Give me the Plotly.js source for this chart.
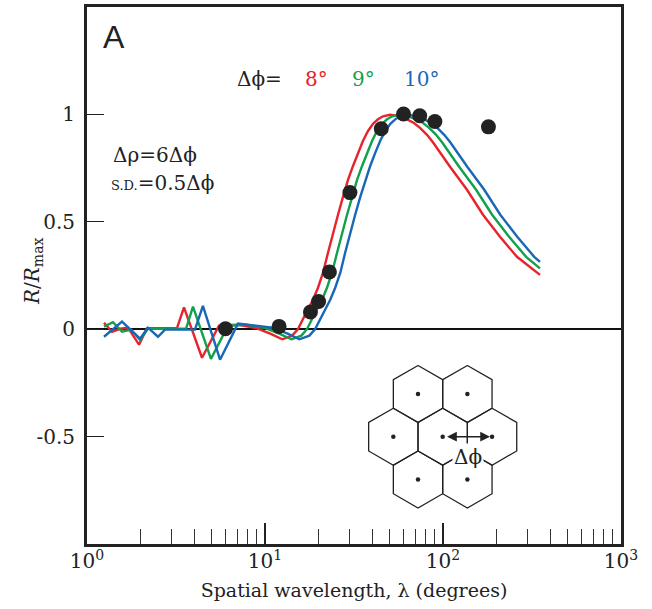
<!DOCTYPE html>
<html>
<head>
<meta charset="utf-8">
<script src="https://cdn.plot.ly/plotly-3.0.1.min.js"></script>
<style>html,body{margin:0;padding:0;background:#fff;}#chart{width:652px;height:609px;}</style>
</head>
<body>
<div id="chart"></div>
<script>
// ---- data ----
const dotsX = [6, 12, 18, 20, 23, 30, 45, 60, 74, 90, 180];
const dotsY = [0.002, 0.013, 0.08, 0.129, 0.266, 0.636, 0.933, 1.002, 0.994, 0.967, 0.942];

const redX = [1.246, 1.382, 1.532, 1.699, 1.96, 2.173, 3.203, 3.506, 4.427, 5.514, 6.96,
  8.8, 10.7, 12.5, 14.2, 15.3, 16.8, 18.6, 19.85, 21.18, 22.59, 24.1, 25.71, 27.43, 29.26,
  31.22, 33.31, 35.53, 37.91, 40.44, 43.14, 46.03, 50.38, 55.87, 62.8, 68.7, 74.3, 81.3, 87.8, 109.5,
  136.4, 167.8, 209.0, 260.4, 350.7];
const redY = [0.03, -0.012, 0.002, 0.007, -0.072, 0.005, 0.005, 0.102, -0.133, 0.016, 0.021,
  0.007, -0.021, -0.047, -0.030, 0.0, 0.067, 0.137, 0.193, 0.263, 0.356, 0.449, 0.533, 0.616, 0.695,
  0.760, 0.821, 0.877, 0.923, 0.956, 0.977, 0.991, 0.998, 0.993, 0.977, 0.960, 0.937, 0.905, 0.870, 0.756,
  0.649, 0.533, 0.430, 0.337, 0.253];

const greenX = [1.246, 1.4, 1.573, 1.767, 1.986, 2.2, 3.6, 3.94, 4.97, 6.2, 7.82,
  9.9, 12.0, 14.1, 16.0, 17.2, 18.9, 20.9, 22.3, 23.8, 25.4, 27.1, 28.9, 30.9, 32.9,
  35.1, 37.5, 40.0, 42.6, 45.5, 48.5, 51.8, 56.7, 62.9, 70.7, 77.3, 83.6, 91.5, 98.8, 123.2,
  153.5, 188.8, 235.1, 293.0, 350.7];
const greenY = [0.012, 0.033, -0.012, -0.002, -0.049, 0.002, 0.002, 0.105, -0.138, 0.016, 0.021,
  0.007, -0.021, -0.047, -0.030, 0.0, 0.067, 0.137, 0.193, 0.263, 0.356, 0.449, 0.533, 0.616, 0.695,
  0.760, 0.821, 0.877, 0.923, 0.956, 0.977, 0.991, 0.998, 0.993, 0.977, 0.960, 0.937, 0.905, 0.870, 0.756,
  0.649, 0.533, 0.430, 0.337, 0.283];

const blueX = [1.246, 1.573, 1.986, 2.2, 2.505, 2.743, 4.04, 4.48, 5.59, 7.05,
  11.0, 13.4, 15.6, 17.75, 19.1, 21.0, 23.25, 24.8, 26.5, 28.2, 30.1, 32.1, 34.3, 36.6,
  39.0, 41.6, 44.4, 47.4, 50.6, 53.9, 57.5, 63.0, 69.8, 78.5, 85.9, 92.9, 101.6, 109.8, 136.9,
  170.5, 209.8, 261.3, 325.5, 350.7];
const blueY = [-0.035, 0.035, -0.044, 0.007, -0.035, -0.002, -0.002, 0.109, -0.142, 0.026,
  0.007, -0.021, -0.047, -0.030, 0.0, 0.067, 0.137, 0.193, 0.263, 0.356, 0.449, 0.533, 0.616, 0.695,
  0.760, 0.821, 0.877, 0.923, 0.956, 0.977, 0.991, 0.998, 0.993, 0.977, 0.960, 0.937, 0.905, 0.870, 0.756,
  0.649, 0.533, 0.430, 0.337, 0.313];

const xTickVals = [1, 10, 100, 1000];
const xTickText = ['10<sup>0</sup>', '10<sup>1</sup>', '10<sup>2</sup>', '10<sup>3</sup>'];
const xMinorVals = [2,3,4,5,6,7,8,9,20,30,40,50,60,70,80,90,200,300,400,500,600,700,800,900];
const yTickVals = [-0.5, 0, 0.5, 1];
const yTickText = ['-0.5', '0', '0.5', '1'];

// inset: hexagonal lattice (unit = hexagon circumradius)
const S3 = Math.sqrt(3);
const hexCenters = [[0,0],[S3,0],[-S3,0],[S3/2,1.5],[-S3/2,1.5],[S3/2,-1.5],[-S3/2,-1.5]];

// ---- build ----
const RED = '#e8232c', GREEN = '#12a04c', BLUE = '#1768b5', INK = '#222';
const serif = "'DejaVu Serif', 'Liberation Serif', 'Noto Serif', serif";
const sans = "'Liberation Sans', Arial, Helvetica, sans-serif";

const hx = [], hy = [];
const angles = [90, 30, -30, -90, -150, 150, 90];
hexCenters.forEach(c => {
  angles.forEach(a => {
    hx.push(c[0] + Math.cos(a*Math.PI/180));
    hy.push(c[1] + Math.sin(a*Math.PI/180));
  });
  hx.push(null); hy.push(null);
});

const traces = [
  {x: redX, y: redY, mode: 'lines', line: {color: RED, width: 2.4}, hoverinfo: 'skip'},
  {x: greenX, y: greenY, mode: 'lines', line: {color: GREEN, width: 2.4}, hoverinfo: 'skip'},
  {x: blueX, y: blueY, mode: 'lines', line: {color: BLUE, width: 2.4}, hoverinfo: 'skip'},
  {x: dotsX, y: dotsY, mode: 'markers', marker: {color: INK, size: 15}, hoverinfo: 'skip'},
  {x: hx, y: hy, xaxis: 'x2', yaxis: 'y2', mode: 'lines', line: {color: INK, width: 1.3}, hoverinfo: 'skip'},
  {x: hexCenters.map(c => c[0]), y: hexCenters.map(c => c[1]), xaxis: 'x2', yaxis: 'y2',
   mode: 'markers', marker: {color: INK, size: 4.5}, hoverinfo: 'skip'}
];

function px2x(p){ return (p - 87) / 534; }
function px2y(p){ return (544 - p) / 537; }
function txt(text, xp, yp, size, color, family){
  return {text: text, xref: 'paper', yref: 'paper', x: px2x(xp), y: px2y(yp),
    xanchor: 'center', yanchor: 'middle', showarrow: false,
    font: {family: family || serif, size: size, color: color || INK}};
}

const yTitle = txt('<i>R</i>/<i>R</i><sub>max</sub>', 33, 272, 20);
yTitle.textangle = -90;

const layout = {
  width: 652, height: 609,
  margin: {l: 87, r: 31, t: 7, b: 65},
  paper_bgcolor: '#fff', plot_bgcolor: '#fff',
  showlegend: false,
  font: {family: serif, color: INK},
  xaxis: {
    type: 'log', range: [0, 3],
    tickmode: 'array', tickvals: xTickVals, ticktext: xTickText,
    ticks: 'inside', ticklen: 21, tickwidth: 1.2, tickcolor: INK,
    ticklabelstandoff: -3,
    minor: {tickmode: 'array', tickvals: xMinorVals, ticks: 'inside', ticklen: 15, tickwidth: 1, tickcolor: '#333', showgrid: false},
    showline: true, linewidth: 3, linecolor: INK, mirror: true,
    showgrid: false, zeroline: false,
    tickfont: {family: serif, size: 20, color: INK},
    title: {text: 'Spatial wavelength, λ (degrees)', font: {family: serif, size: 19, color: INK}, standoff: 12}
  },
  yaxis: {
    range: [-1, 1.5],
    tickmode: 'array', tickvals: yTickVals, ticktext: yTickText,
    ticks: 'inside', ticklen: 17, tickwidth: 1.2, tickcolor: INK,
    ticklabelstandoff: 5,
    showline: true, linewidth: 3, linecolor: INK, mirror: true,
    showgrid: false, zeroline: true, zerolinecolor: '#111', zerolinewidth: 2,
    tickfont: {family: serif, size: 20, color: INK}
  },
  xaxis2: {domain: [0.506, 0.8262], range: [-3, 3], anchor: 'y2', visible: false, fixedrange: true},
  yaxis2: {domain: [0.0406, 0.359], range: [-3, 3], anchor: 'x2', visible: false, fixedrange: true},
  annotations: [
    yTitle,
    txt('A', 114, 37, 32, INK, sans),
    txt('Δϕ=', 259, 79, 20),
    txt('8°', 316, 79, 20, RED),
    txt('9°', 363, 79, 20, GREEN),
    txt('10°', 421, 79, 20, BLUE),
    txt('Δρ=6Δϕ', 155, 155, 20),
    txt('<span style="font-size:13px">S.D.</span>=0.5Δϕ', 162, 183, 20),
    {text: '', xref: 'x2', yref: 'y2', axref: 'x2', ayref: 'y2', x: 1.66, y: 0, ax: 0.1, ay: 0,
     showarrow: true, arrowhead: 2, startarrowhead: 2, arrowside: 'end+start',
     arrowsize: 1.3, startarrowsize: 1.3, arrowwidth: 1.5, arrowcolor: INK},
    {text: 'Δϕ', xref: 'x2', yref: 'y2', x: 0.9, y: -0.72, showarrow: false,
     xanchor: 'center', yanchor: 'middle', bgcolor: '#fff', borderpad: 1,
     font: {family: serif, size: 20, color: INK}}
  ]
};

Plotly.newPlot('chart', traces, layout, {displayModeBar: false, staticPlot: true});
</script>
</body>
</html>
